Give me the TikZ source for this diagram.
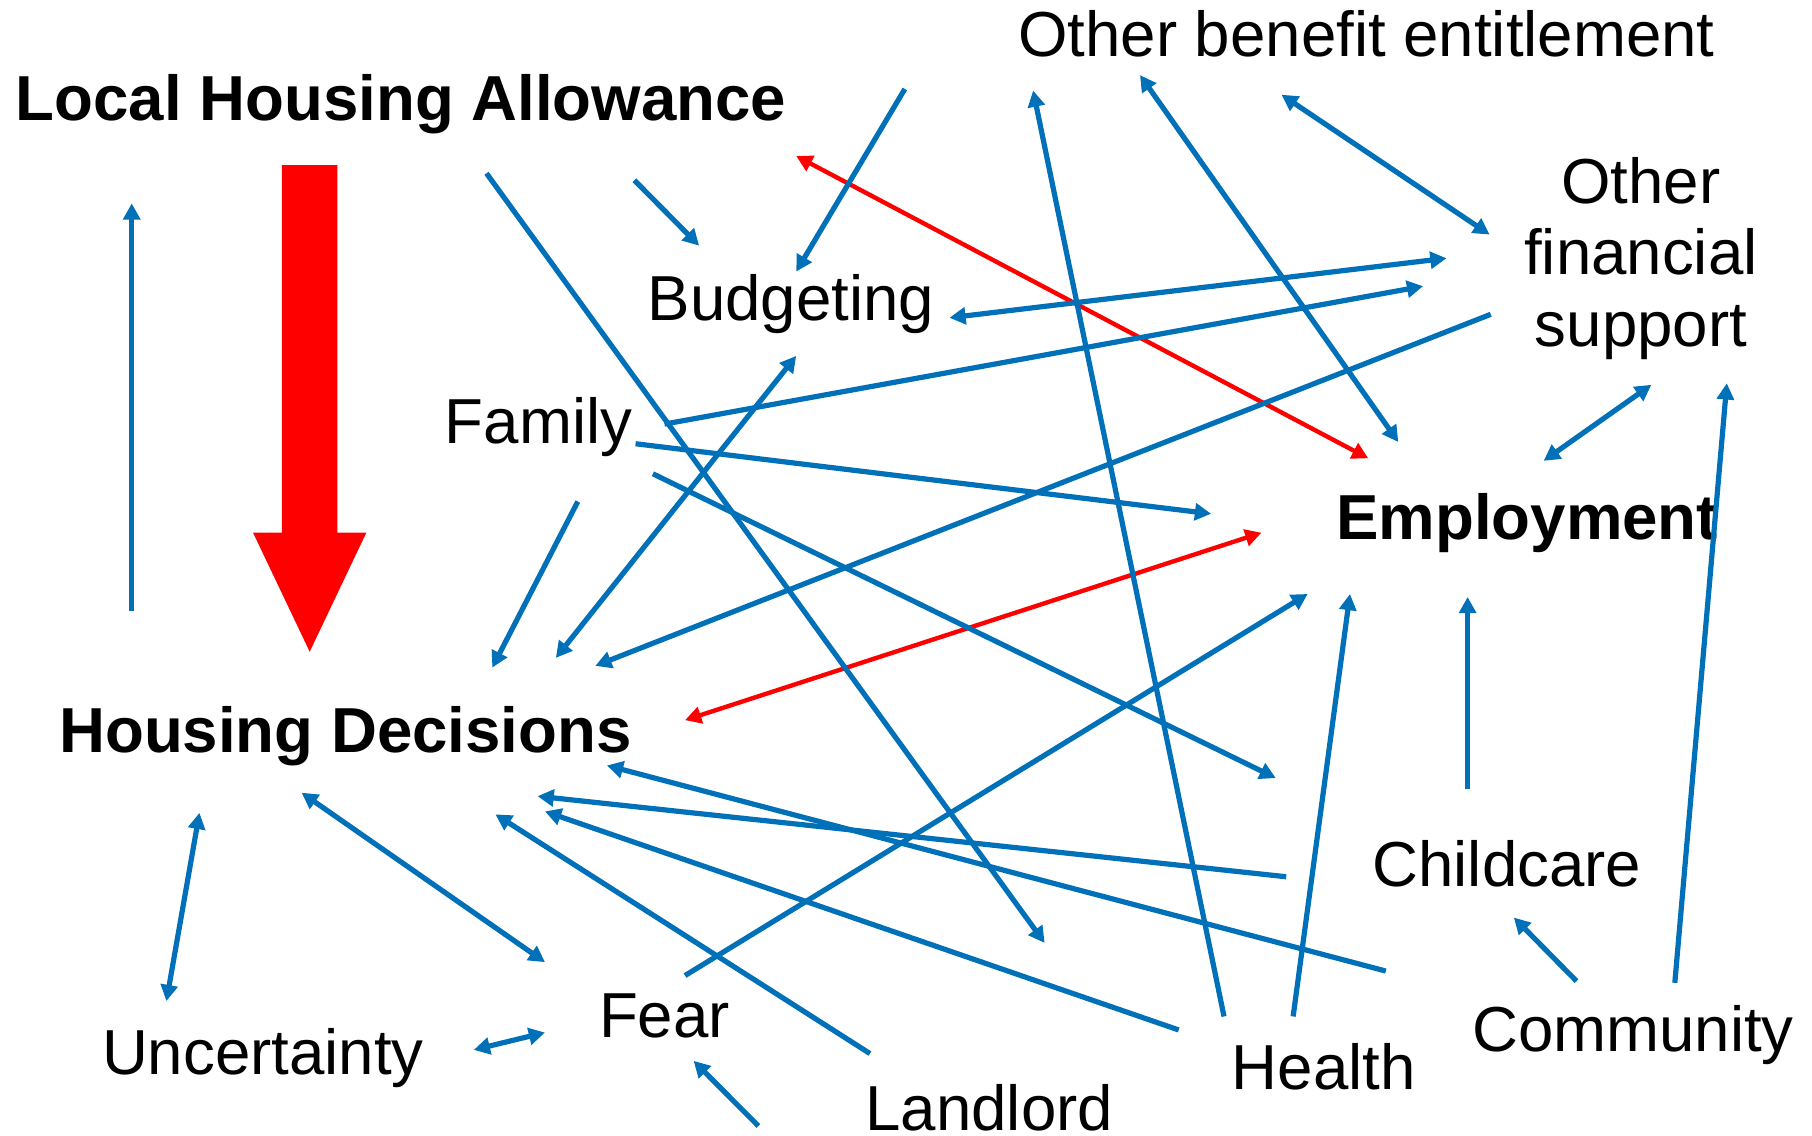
\documentclass[tikz,border=0pt]{standalone}
\usepackage{fontspec}
\setmainfont{Liberation Sans}
\usetikzlibrary{arrows.meta}
\definecolor{linkblue}{RGB}{0,112,184}
\definecolor{linkred}{RGB}{255,0,0}
\begin{document}
\begin{tikzpicture}[x=0.01cm,y=-0.01cm,
  term/.style={inner sep=0pt, anchor=base, font=\fontsize{15.65pt}{17.5pt}\selectfont},
  keyterm/.style={term, font=\fontsize{15.65pt}{17.5pt}\selectfont\bfseries},
  tip/.tip={Triangle[length=0.14cm,width=0.145cm]},
  link/.style={draw=linkblue, line width=0.045cm, -tip},
  twoway/.style={link, tip-tip},
  redlink/.style={draw=linkred, line width=0.038cm, tip-tip},
]
\useasboundingbox (0,0) rectangle (1568,983);

% factors
\node[keyterm] (lha) at (347,104) {Local Housing Allowance};
\node[keyterm] (hd)  at (299,651) {Housing Decisions};
\node[keyterm] (emp) at (1321.5,467) {Employment};
\node[term] (obe) at (1182.5,49) {Other benefit entitlement};
% a multi-line node sits on the baseline of its last line
\node[term, align=center] (ofs) at (1420,299.5) {Other\\financial\\support};
\node[term] (bud) at (684.5,277.5) {Budgeting};
\node[term] (fam) at (466,384) {Family};
\node[term] (cc)  at (1304,767) {Childcare};
\node[term] (unc) at (227.5,930) {Uncertainty};
\node[term] (fear) at (575,897.5) {Fear};
\node[term] (ll)  at (856,978.5) {Landlord};
\node[term] (hl)  at (1145.5,943) {Health};
\node[term] (com) at (1413,910) {Community};

% connector end points
\coordinate (hd-up)   at (114,529);   \coordinate (lha-in)  at (114,176);
\coordinate (lha-ll)  at (421,150);   \coordinate (ll-top)  at (904,816);
\coordinate (lha-bud) at (549,156);   \coordinate (bud-tl)  at (605,212.6);
\coordinate (obe-bud) at (783,77);    \coordinate (bud-top) at (689,235);
\coordinate (lha-emp) at (689,135);   \coordinate (emp-tl)  at (1184,396.6);
\coordinate (hl-obe)  at (1059.2,879.6); \coordinate (obe-bl) at (894,78.4);
\coordinate (obe-emp) at (986.5,65);  \coordinate (emp-top) at (1210,382.5);
\coordinate (obe-ofs) at (1109,82);   \coordinate (ofs-tl)  at (1289,203);
\coordinate (bud-ofs) at (821.6,275); \coordinate (ofs-l1)  at (1251.7,223.5);
\coordinate (fam-ofs) at (575,367);   \coordinate (ofs-l2)  at (1231.5,247.7);
\coordinate (ofs-hd)  at (1290,272);  \coordinate (hd-tr3)  at (515.2,576.2);
\coordinate (fam-emp) at (550,384);   \coordinate (emp-l)   at (1048,444.6);
\coordinate (fam-cc)  at (565,410);   \coordinate (cc-tl)   at (1104,673.3);
\coordinate (fam-hd)  at (500,434);   \coordinate (hd-tr1)  at (426,577.7);
\coordinate (bud-hd)  at (689,308);   \coordinate (hd-tr2)  at (481,569.3);
\coordinate (hd-emp)  at (592.8,623.2); \coordinate (emp-bl) at (1091.6,461);
\coordinate (fear-emp) at (592.8,844.2); \coordinate (emp-b1) at (1131.6,514);
\coordinate (hl-emp)  at (1119,879.6); \coordinate (emp-b2)  at (1168.2,514);
\coordinate (cc-emp)  at (1270,682.8); \coordinate (emp-b3)  at (1270,516.6);
\coordinate (com-ofs) at (1449.3,850.5); \coordinate (ofs-b) at (1494.3,331.7);
\coordinate (emp-ofs) at (1335.8,398.8); \coordinate (ofs-bl) at (1429,333);
\coordinate (com-cc)  at (1364.2,849); \coordinate (cc-b)    at (1310,794);
\coordinate (cc-hd)   at (1113,758.7); \coordinate (hd-r1)   at (465.2,689);
\coordinate (com-hd)  at (1199.2,840.3); \coordinate (hd-r0) at (525.2,662.4);
\coordinate (hl-hd)   at (1020,891.3); \coordinate (hd-r2)   at (471.6,702.2);
\coordinate (ll-hd)   at (752.8,911.7); \coordinate (hd-r3)  at (428.7,704.7);
\coordinate (fear-hd) at (471.6,832.6); \coordinate (hd-b1)  at (261,686);
\coordinate (hd-unc)  at (172.6,703.4); \coordinate (unc-top) at (144,866.3);
\coordinate (unc-fear) at (410,908.5); \coordinate (fear-l)  at (471.6,893.5);
\coordinate (ll-fear) at (656.3,974.4); \coordinate (fear-b)  at (600.2,918);

% main effect: broad red arrow
\coordinate (blk-top) at (268,143);
\coordinate (blk-tip) at (268,564);
\fill[linkred] ([xshift=-0.24cm]blk-top) -- ([xshift=0.24cm]blk-top)
  -- ([xshift=0.24cm,yshift=1.03cm]blk-tip) -- ([xshift=0.49cm,yshift=1.03cm]blk-tip)
  -- (blk-tip)
  -- ([xshift=-0.49cm,yshift=1.03cm]blk-tip) -- ([xshift=-0.24cm,yshift=1.03cm]blk-tip)
  -- cycle;

% red links
\draw[redlink] (lha-emp) -- (emp-tl);
\draw[redlink] (hd-emp) -- (emp-bl);

% blue links
\draw[link] (hd-up) -- (lha-in);
\draw[link] (lha-ll) -- (ll-top);
\draw[link] (lha-bud) -- (bud-tl);
\draw[link] (obe-bud) -- (bud-top);
\draw[link] (hl-obe) -- (obe-bl);
\draw[twoway] (obe-emp) -- (emp-top);
\draw[twoway] (obe-ofs) -- (ofs-tl);
\draw[twoway] (bud-ofs) -- (ofs-l1);
\draw[link] (fam-ofs) -- (ofs-l2);
\draw[link] (ofs-hd) -- (hd-tr3);
\draw[link] (fam-emp) -- (emp-l);
\draw[link] (fam-cc) -- (cc-tl);
\draw[link] (fam-hd) -- (hd-tr1);
\draw[twoway] (bud-hd) -- (hd-tr2);
\draw[link] (fear-emp) -- (emp-b1);
\draw[link] (hl-emp) -- (emp-b2);
\draw[link] (cc-emp) -- (emp-b3);
\draw[link] (com-ofs) -- (ofs-b);
\draw[twoway] (emp-ofs) -- (ofs-bl);
\draw[link] (com-cc) -- (cc-b);
\draw[link] (cc-hd) -- (hd-r1);
\draw[link] (com-hd) -- (hd-r0);
\draw[link] (hl-hd) -- (hd-r2);
\draw[link] (ll-hd) -- (hd-r3);
\draw[twoway] (fear-hd) -- (hd-b1);
\draw[twoway] (hd-unc) -- (unc-top);
\draw[twoway] (unc-fear) -- (fear-l);
\draw[link] (ll-fear) -- (fear-b);
\end{tikzpicture}
\end{document}
